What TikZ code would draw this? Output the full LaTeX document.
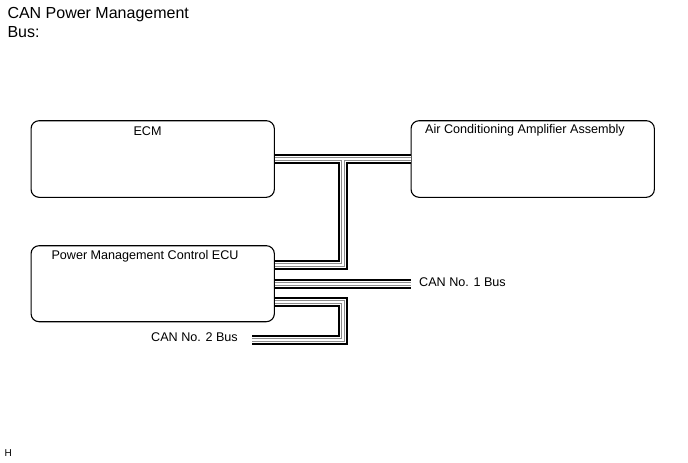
\documentclass[tikz,border=0pt]{standalone}
\usepackage{fontspec}
\setmainfont{Liberation Sans}
\usetikzlibrary{calc}

\tikzset{
  unit/.style={draw, line width=1.1pt, rounded corners=8pt, inner sep=0pt,
    minimum width=243.3pt, minimum height=76.6pt},
  lbl/.style={inner sep=0pt, font=\fontsize{12.6}{14}\selectfont}
}

\begin{document}
\begin{tikzpicture}[x=1pt, y=-1pt]
  \useasboundingbox (0,0) rectangle (688,463);

  % title
  \node[anchor=north west, inner sep=0pt, align=left,
    font=\fontsize{16}{18.5}\selectfont] (title) at (7.3,7.3) {CAN Power Management\\Bus:};

  % boxes
  \node[unit] (ecm) at (152.7,159) {};
  \node[unit] (aca) at (532.7,159) {};
  \node[unit, minimum height=76pt] (ecu) at (152.7,283.7) {};

  \node[lbl] (ecmtxt) at (147.5,131) {ECM};
  \node[lbl, anchor=west] (acatxt) at (425,130) {Air Conditioning Amplifier Assembly};
  \node[lbl] (ecutxt) at (145,256) {Power Management Control ECU};

  % bus labels
  \node[lbl, anchor=west, inner xsep=8pt] (can1) at (411,281.7) {CAN No. 1 Bus};
  \node[lbl, anchor=east, inner xsep=14pt] (can2) at (252,337.3) {CAN No. 2 Bus};

  \coordinate (tee) at ($(ecm.east)!0.5!(aca.west)$);
  \coordinate (c2) at ($(can2.east)+(0,2.7)$);

  % bus lines, drawn in layers
  \foreach \w/\c in {10/black, 6/white, 4/black!45, 2/white} {
    \draw[line width=\w pt, \c] (ecm.east) -- (aca.west);
    \draw[line width=\w pt, \c] (tee) |- ($(ecu.east)+(0,-19.2)$);
    \draw[line width=\w pt, \c] (ecu.east) -- (can1.west |- ecu.east);
    \draw[line width=\w pt, \c] ($(ecu.east)+(0,18.5)$) -| (tee |- c2) -- (c2);
  }

  \node[inner sep=0pt, font=\fontsize{10}{12}\selectfont] (hmark) at (8.3,453) {H};
\end{tikzpicture}
\end{document}
